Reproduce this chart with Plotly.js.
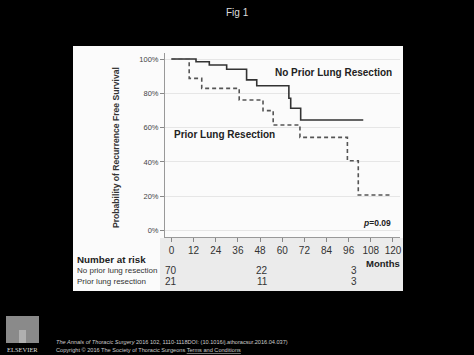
<!DOCTYPE html>
<html><head><meta charset="utf-8">
<script src="https://cdn.plot.ly/plotly-3.0.1.min.js"></script>
<style>html,body{margin:0;padding:0;background:#000;}#c{width:474px;height:355px;}</style>
</head><body><div id="c"></div>
<script>
// Data
var noPriorMonths = [0, 13.3, 20.5, 29.9, 40.7, 46.2, 63.6, 64.6, 70.0, 103.9];
var noPriorSurv   = [100, 98.4, 96.5, 94.0, 87.8, 84.4, 77.1, 71.3, 64.4, 64.4];
var priorMonths   = [0, 9.6, 16.4, 36.7, 49.6, 55.1, 69.6, 95.3, 101.2, 119.3];
var priorSurv     = [100, 88.7, 82.9, 76.1, 69.9, 61.5, 54.3, 40.7, 20.7, 20.7];
var xTicks = [0, 12, 24, 36, 48, 60, 72, 84, 96, 108, 120];
var yTicks = [0, 20, 40, 60, 80, 100];
var riskMonths = [0, 48, 96];
var riskNoPrior = [70, 22, 3];
var riskPrior = [21, 11, 3];
var riskShift = [0, 2, 5];

// layout geometry (pixels)
var L = 165, R = 400, T = 53, B = 237;
function px(x){ return (x - L) / (R - L); }
function py(y){ return (B - y) / (B - T); }
var F = 'Liberation Sans, Arial, sans-serif';

var traces = [
  {x: noPriorMonths, y: noPriorSurv, mode: 'lines', line: {shape: 'hv', color: '#333', width: 1.6}, hoverinfo: 'skip'},
  {x: priorMonths, y: priorSurv, mode: 'lines', line: {shape: 'hv', color: '#555', width: 1.6, dash: '4px,3px'}, hoverinfo: 'skip'}
];

var ann = [];
function txt(t, x, y, o){
  var a = {text: t, x: px(x), y: py(y), xref: 'paper', yref: 'paper', showarrow: false,
    xanchor: 'center', yanchor: 'middle', font: {family: F, size: 10, color: '#222'}};
  for (var k in o) a[k] = o[k];
  ann.push(a);
}
txt('Fig 1', 237, 13, {font: {family: F, size: 10, color: '#ddd'}});
txt('<b>No Prior Lung Resection</b>', 333, 72, {font: {family: F, size: 10, color: '#222'}});
txt('<b>Prior Lung Resection</b>', 224, 134, {font: {family: F, size: 10, color: '#222'}});
txt('<b><i>p</i>=0.09</b>', 377, 223, {font: {family: F, size: 8.5, color: '#222'}});
txt('<b>Probability of Recurrence Free Survival</b>', 116, 148, {textangle: -90, font: {family: F, size: 8.6, color: '#333'}});
txt('<b>Number at risk</b>', 75, 259, {xanchor: 'left', font: {family: F, size: 9.8, color: '#222'}});
txt('No prior lung resection', 75, 270, {xanchor: 'left', font: {family: F, size: 8, color: '#333'}});
txt('Prior lung resection', 75, 281, {xanchor: 'left', font: {family: F, size: 8, color: '#333'}});
txt('<b>Months</b>', 383, 263, {font: {family: F, size: 9.5, color: '#222'}});
for (var i = 0; i < riskMonths.length; i++){
  ann.push({text: String(riskNoPrior[i]), x: riskMonths[i], y: py(270), xref: 'x', yref: 'paper', xshift: riskShift[i],
    showarrow: false, xanchor: 'center', yanchor: 'middle', font: {family: F, size: 10, color: '#333'}});
  ann.push({text: String(riskPrior[i]), x: riskMonths[i], y: py(281), xref: 'x', yref: 'paper', xshift: riskShift[i],
    showarrow: false, xanchor: 'center', yanchor: 'middle', font: {family: F, size: 10, color: '#333'}});
}
txt('<i>The Annals of Thoracic Surgery</i> 2016 102, 1110-1118DOI: (10.1016/j.athoracsur.2016.04.037)', 54, 342, {xanchor: 'left', font: {family: F, size: 5.6, color: '#ccc'}});
txt('Copyright © 2016 The Society of Thoracic Surgeons <u>Terms and Conditions</u>', 54, 349.5, {xanchor: 'left', font: {family: F, size: 5.6, color: '#ccc'}});
txt('ELSEVIER', 22, 349, {font: {family: 'Liberation Serif, serif', size: 6.5, color: '#ddd'}});

var shapes = [
  {type: 'rect', xref: 'paper', yref: 'paper', x0: px(73), x1: px(403), y0: py(291), y1: py(46), fillcolor: '#fbfbfb', line: {width: 0}, layer: 'below'},
  {type: 'rect', xref: 'paper', yref: 'paper', x0: px(160), x1: px(403), y0: py(291), y1: py(238), fillcolor: '#ebebeb', line: {width: 0}, layer: 'below'},
  {type: 'rect', xref: 'paper', yref: 'paper', x0: px(6), x1: px(39), y0: py(343), y1: py(316), fillcolor: '#8a8a8a', line: {width: 0}, layer: 'below'},
  {type: 'rect', xref: 'paper', yref: 'paper', x0: px(19), x1: px(26), y0: py(343), y1: py(330), fillcolor: '#b0b0b0', line: {width: 0}, layer: 'below'}
];

var layout = {
  width: 474, height: 355,
  margin: {l: L, r: 474 - R, t: T, b: 355 - B, pad: 0},
  paper_bgcolor: '#000', plot_bgcolor: 'rgba(0,0,0,0)',
  showlegend: false,
  xaxis: {range: [-3.5, 123.8], tickvals: xTicks, ticktext: xTicks.map(String), ticks: 'outside', ticklen: 4, tickcolor: '#888',
    showline: true, linecolor: '#999', linewidth: 1, showgrid: false, zeroline: false,
    tickfont: {family: F, size: 10, color: '#333'}, fixedrange: true},
  yaxis: {range: [-3.8, 103.5], tickvals: yTicks, ticktext: yTicks.map(function(v){return v + '%';}), ticks: 'outside', ticklen: 4, tickcolor: '#888',
    showline: true, linecolor: '#999', linewidth: 1, showgrid: true, gridcolor: '#e6e6e6', gridwidth: 1, zeroline: false,
    tickfont: {family: F, size: 7.5, color: '#444'}, fixedrange: true},
  annotations: ann,
  shapes: shapes
};
Plotly.newPlot('c', traces, layout, {staticPlot: true, displayModeBar: false});
</script></body></html>
